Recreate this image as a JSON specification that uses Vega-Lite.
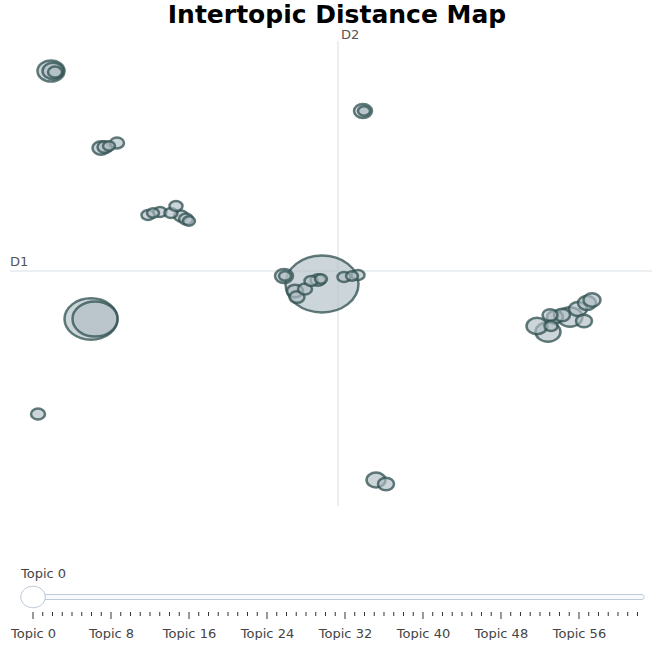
{
  "$schema": "https://vega.github.io/schema/vega-lite/v6.json",
  "padding": {"top": 3, "left": 0, "right": 0, "bottom": 0},
  "background": "white",
  "title": {"text": "Intertopic Distance Map", "font": "DejaVu Sans", "fontSize": 25, "fontWeight": "bold", "color": "black", "anchor": "middle", "frame": "group", "baseline": "top", "offset": -3, "dx": 11},
  "config": {"view": {"stroke": null}, "font": "DejaVu Sans"},
  "spacing": 40,
  "datasets": {
    "topics": [
      {"Topic": 0, "x": -0.533, "y": -0.433, "Size": 2665},
      {"Topic": 1, "x": -8.233, "y": -1.6, "Size": 1405},
      {"Topic": 2, "x": -8.1, "y": -1.6, "Size": 1012},
      {"Topic": 3, "x": -9.567, "y": 6.667, "Size": 365},
      {"Topic": 4, "x": 7.0, "y": -2.033, "Size": 312},
      {"Topic": 5, "x": 7.733, "y": -1.533, "Size": 312},
      {"Topic": 6, "x": -9.5, "y": 6.667, "Size": 220},
      {"Topic": 7, "x": 6.633, "y": -1.833, "Size": 220},
      {"Topic": 8, "x": 1.267, "y": -6.967, "Size": 180},
      {"Topic": 9, "x": 0.833, "y": 5.333, "Size": 162},
      {"Topic": 10, "x": -1.8, "y": -0.167, "Size": 162},
      {"Topic": 11, "x": 8.0, "y": -1.267, "Size": 162},
      {"Topic": 12, "x": 8.3, "y": -1.067, "Size": 162},
      {"Topic": 13, "x": -7.9, "y": 4.1, "Size": 145},
      {"Topic": 14, "x": 8.467, "y": -0.967, "Size": 145},
      {"Topic": 15, "x": -1.433, "y": -0.667, "Size": 128},
      {"Topic": 16, "x": 1.6, "y": -7.1, "Size": 128},
      {"Topic": 17, "x": 7.233, "y": -1.533, "Size": 128},
      {"Topic": 18, "x": 7.467, "y": -1.467, "Size": 128},
      {"Topic": 19, "x": 8.2, "y": -1.667, "Size": 128},
      {"Topic": 20, "x": -7.767, "y": 4.133, "Size": 112},
      {"Topic": 21, "x": -1.367, "y": -0.867, "Size": 112},
      {"Topic": 22, "x": -0.667, "y": -0.3, "Size": 112},
      {"Topic": 23, "x": 7.067, "y": -1.467, "Size": 112},
      {"Topic": 24, "x": -9.433, "y": 6.633, "Size": 98},
      {"Topic": 25, "x": -7.367, "y": 4.267, "Size": 98},
      {"Topic": 26, "x": -5.233, "y": 1.833, "Size": 98},
      {"Topic": 27, "x": -5.067, "y": 1.733, "Size": 98},
      {"Topic": 28, "x": -1.1, "y": -0.6, "Size": 98},
      {"Topic": 29, "x": -10.0, "y": -4.767, "Size": 98},
      {"Topic": 30, "x": -6.333, "y": 1.867, "Size": 85},
      {"Topic": 31, "x": -5.933, "y": 1.967, "Size": 85},
      {"Topic": 32, "x": -5.567, "y": 1.933, "Size": 85},
      {"Topic": 33, "x": -5.4, "y": 2.167, "Size": 85},
      {"Topic": 34, "x": -0.9, "y": -0.333, "Size": 85},
      {"Topic": 35, "x": 0.2, "y": -0.2, "Size": 85},
      {"Topic": 36, "x": 0.667, "y": -0.133, "Size": 85},
      {"Topic": 37, "x": 7.1, "y": -1.833, "Size": 85},
      {"Topic": 38, "x": -7.633, "y": 4.167, "Size": 72},
      {"Topic": 39, "x": -6.167, "y": 1.933, "Size": 72},
      {"Topic": 40, "x": -4.967, "y": 1.667, "Size": 72},
      {"Topic": 41, "x": 0.867, "y": 5.333, "Size": 72},
      {"Topic": 42, "x": -1.767, "y": -0.167, "Size": 72},
      {"Topic": 43, "x": -0.567, "y": -0.267, "Size": 72},
      {"Topic": 44, "x": 0.467, "y": -0.167, "Size": 72}
    ],
    "steps": [
      {"topic": 0}, {"topic": 1}, {"topic": 2}, {"topic": 3}, {"topic": 4}, {"topic": 5}, {"topic": 6}, {"topic": 7},
      {"topic": 8}, {"topic": 9}, {"topic": 10}, {"topic": 11}, {"topic": 12}, {"topic": 13}, {"topic": 14}, {"topic": 15},
      {"topic": 16}, {"topic": 17}, {"topic": 18}, {"topic": 19}, {"topic": 20}, {"topic": 21}, {"topic": 22}, {"topic": 23},
      {"topic": 24}, {"topic": 25}, {"topic": 26}, {"topic": 27}, {"topic": 28}, {"topic": 29}, {"topic": 30}, {"topic": 31},
      {"topic": 32}, {"topic": 33}, {"topic": 34}, {"topic": 35}, {"topic": 36}, {"topic": 37}, {"topic": 38}, {"topic": 39},
      {"topic": 40}, {"topic": 41}, {"topic": 42}, {"topic": 43}, {"topic": 44}, {"topic": 45}, {"topic": 46}, {"topic": 47},
      {"topic": 48}, {"topic": 49}, {"topic": 50}, {"topic": 51}, {"topic": 52}, {"topic": 53}, {"topic": 54}, {"topic": 55},
      {"topic": 56}, {"topic": 57}, {"topic": 58}, {"topic": 59}, {"topic": 60}, {"topic": 61}, {"topic": 62}
    ]
  },
  "vconcat": [
    {
      "width": 652,
      "height": 496,
      "layer": [
        {
          "data": {"values": [{"xa": -10.933, "xb": 10.467, "y": 0}]},
          "mark": {"type": "rule", "color": "#E6EAEC", "strokeWidth": 1.5},
          "encoding": {
            "x": {"field": "xa", "type": "quantitative", "scale": {"domain": [-11.267, 10.467], "nice": false, "zero": false}, "axis": null},
            "x2": {"field": "xb"},
            "y": {"field": "y", "type": "quantitative", "scale": {"domain": [-8.333, 8.2], "nice": false, "zero": false}, "axis": null}
          }
        },
        {
          "data": {"values": [{"x": 0, "ya": 7.667, "yb": -7.833}]},
          "mark": {"type": "rule", "color": "#E6EAEC", "strokeWidth": 1.5},
          "encoding": {
            "x": {"field": "x", "type": "quantitative", "scale": {"domain": [-11.267, 10.467], "nice": false, "zero": false}, "axis": null},
            "y": {"field": "ya", "type": "quantitative", "scale": {"domain": [-8.333, 8.2], "nice": false, "zero": false}, "axis": null},
            "y2": {"field": "yb"}
          }
        },
        {
          "data": {"name": "topics"},
          "mark": {"type": "point", "filled": true, "shape": "M-1,0A1,0.78,0,1,1,1,0A1,0.78,0,1,1,-1,0Z", "fill": "#B0BEC5", "stroke": "#2F4F4F", "strokeWidth": 2.5, "fillOpacity": 0.65, "strokeOpacity": 0.75},
          "encoding": {
            "x": {"field": "x", "type": "quantitative", "scale": {"domain": [-11.267, 10.467], "nice": false, "zero": false}, "axis": null},
            "y": {"field": "y", "type": "quantitative", "scale": {"domain": [-8.333, 8.2], "nice": false, "zero": false}, "axis": null},
            "size": {"field": "Size", "type": "quantitative", "scale": {"type": "linear", "domain": [0, 2700], "range": [0, 5400], "zero": true}, "legend": null},
            "order": {"field": "Size", "sort": "descending"}
          }
        },
        {
          "data": {"values": [{"label": "D1", "x": -10.933, "y": 0.3}, {"label": "D2", "x": 0.1, "y": 7.867}]},
          "mark": {"type": "text", "align": "left", "baseline": "middle", "fontSize": 13, "color": "#555555"},
          "encoding": {
            "x": {"field": "x", "type": "quantitative", "scale": {"domain": [-11.267, 10.467], "nice": false, "zero": false}, "axis": null},
            "y": {"field": "y", "type": "quantitative", "scale": {"domain": [-8.333, 8.2], "nice": false, "zero": false}, "axis": null},
            "text": {"field": "label"}
          }
        }
      ]
    },
    {
      "width": 652,
      "height": 60,
      "layer": [
        {
          "data": {"values": [{"start": -1.128, "end": 62.67}]},
          "mark": {"type": "rect", "fill": "#f8fafc", "stroke": "#bec8d9", "strokeWidth": 1, "cornerRadius": 2},
          "encoding": {
            "x": {"field": "start", "type": "quantitative", "scale": {"domain": [-3.385, 63.49], "nice": false, "zero": false},
              "axis": {"values": [0, 8, 16, 24, 32, 40, 48, 56], "labelExpr": "'Topic ' + datum.value", "title": null, "domain": false, "ticks": false, "grid": false, "labelFontSize": 13, "labelColor": "#444444", "labelPadding": 6, "labelFlush": false, "labelOverlap": false, "labelFont": "DejaVu Sans"}},
            "x2": {"field": "end"},
            "y": {"datum": 21.5, "type": "quantitative", "scale": {"domain": [0, 60], "nice": false, "zero": false}, "axis": null},
            "y2": {"datum": 26.5}
          }
        },
        {
          "data": {"name": "steps"},
          "transform": [{"filter": "datum.topic % 8 === 0"}],
          "mark": {"type": "rule", "color": "#333333", "strokeWidth": 1},
          "encoding": {
            "x": {"field": "topic", "type": "quantitative", "scale": {"domain": [-3.385, 63.49], "nice": false, "zero": false}},
            "y": {"datum": 9, "type": "quantitative", "scale": {"domain": [0, 60], "nice": false, "zero": false}, "axis": null},
            "y2": {"datum": 2}
          }
        },
        {
          "data": {"name": "steps"},
          "transform": [{"filter": "datum.topic % 8 !== 0"}],
          "mark": {"type": "rule", "color": "#333333", "strokeWidth": 1},
          "encoding": {
            "x": {"field": "topic", "type": "quantitative", "scale": {"domain": [-3.385, 63.49], "nice": false, "zero": false}},
            "y": {"datum": 9, "type": "quantitative", "scale": {"domain": [0, 60], "nice": false, "zero": false}, "axis": null},
            "y2": {"datum": 5}
          }
        },
        {
          "data": {"values": [{"topic": 0, "label": "Topic 0"}]},
          "mark": {"type": "point", "filled": true, "shape": "M-1,0A1,0.88,0,1,1,1,0A1,0.88,0,1,1,-1,0Z", "fill": "white", "stroke": "#bec8d9", "strokeWidth": 1, "opacity": 1, "size": 600},
          "encoding": {
            "x": {"field": "topic", "type": "quantitative", "scale": {"domain": [-3.385, 63.49], "nice": false, "zero": false}},
            "y": {"datum": 24, "type": "quantitative", "scale": {"domain": [0, 60], "nice": false, "zero": false}, "axis": null}
          }
        },
        {
          "data": {"values": [{"pos": -1.231, "label": "Topic 0"}]},
          "mark": {"type": "text", "align": "left", "baseline": "middle", "fontSize": 13, "color": "#444444"},
          "encoding": {
            "x": {"field": "pos", "type": "quantitative", "scale": {"domain": [-3.385, 63.49], "nice": false, "zero": false}},
            "y": {"datum": 47, "type": "quantitative", "scale": {"domain": [0, 60], "nice": false, "zero": false}, "axis": null},
            "text": {"field": "label"}
          }
        }
      ]
    }
  ]
}
